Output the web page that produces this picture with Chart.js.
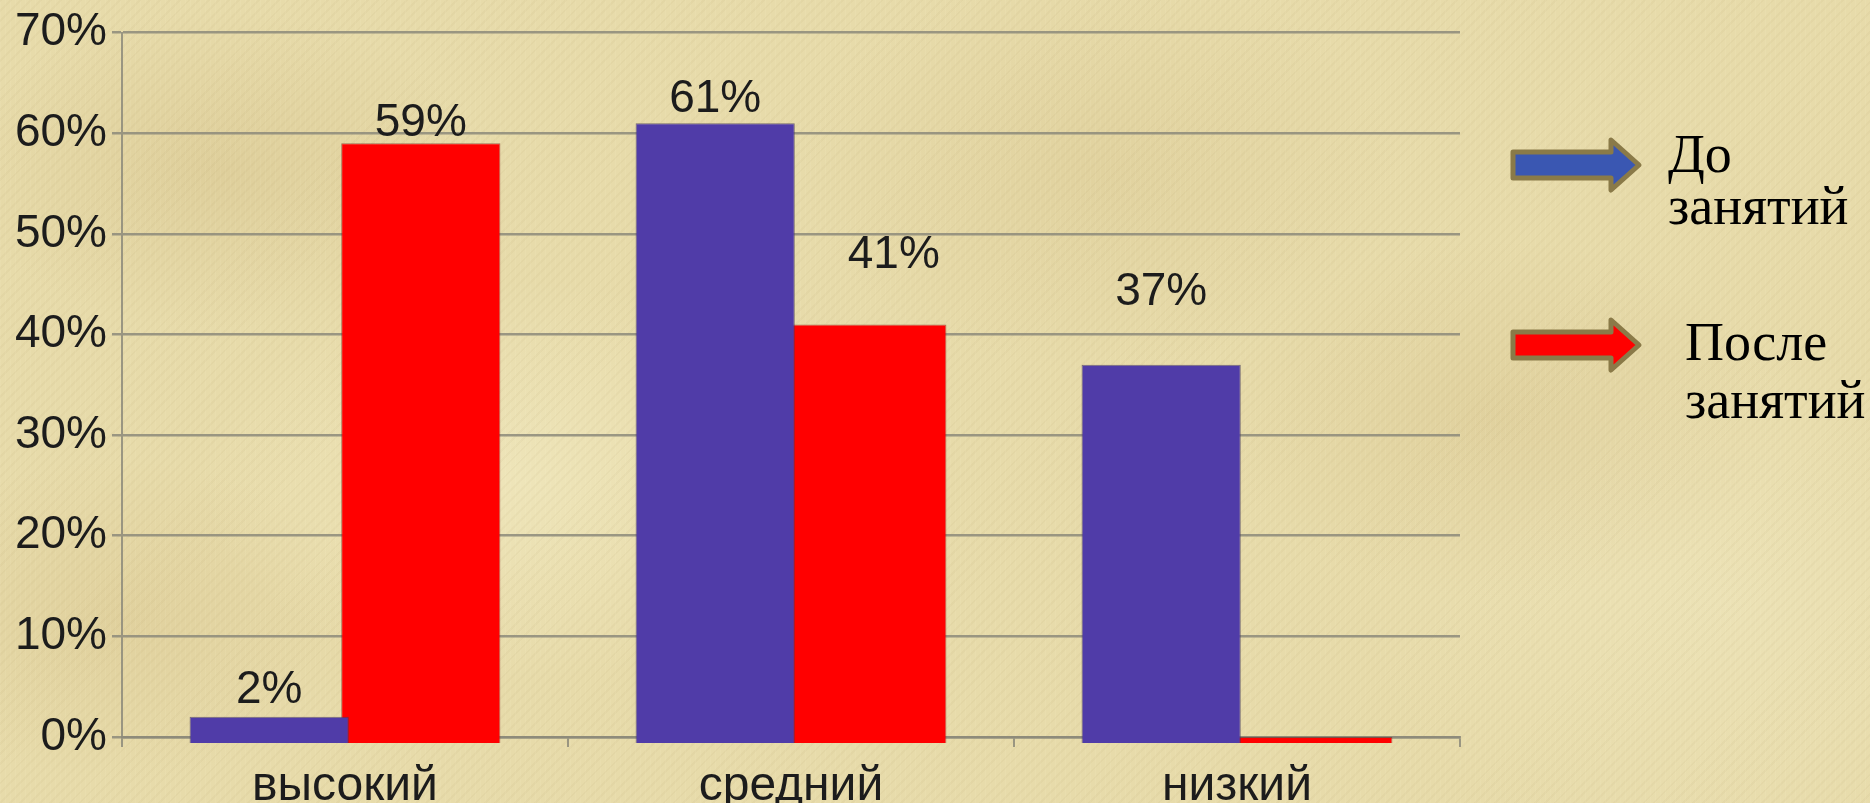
<!DOCTYPE html>
<html lang="ru">
<head>
<meta charset="utf-8">
<title>До и после занятий</title>
<script src="https://cdn.jsdelivr.net/npm/chart.js@4.4.1/dist/chart.umd.min.js"></script>
<style>
  html, body {
    margin: 0;
    padding: 0;
    width: 1870px;
    height: 803px;
    overflow: hidden;
  }
  body {
    position: relative;
    background-color: #e7dbaa;
    background-image:
      repeating-linear-gradient(135deg, rgba(150, 125, 70, 0.05) 0 2px, rgba(0, 0, 0, 0) 2px 7px),
      repeating-linear-gradient(90deg, rgba(255, 250, 220, 0.08) 0 1px, rgba(0, 0, 0, 0) 1px 5px),
      radial-gradient(ellipse 260px 160px at 220px 170px, rgba(196, 170, 110, 0.25), rgba(0, 0, 0, 0)),
      radial-gradient(ellipse 300px 200px at 1100px 170px, rgba(200, 175, 115, 0.2), rgba(0, 0, 0, 0)),
      radial-gradient(ellipse 280px 180px at 1500px 420px, rgba(196, 168, 108, 0.2), rgba(0, 0, 0, 0)),
      radial-gradient(ellipse 320px 200px at 520px 480px, rgba(245, 238, 200, 0.5), rgba(0, 0, 0, 0)),
      radial-gradient(ellipse 360px 260px at 1720px 600px, rgba(240, 232, 192, 0.55), rgba(0, 0, 0, 0)),
      radial-gradient(ellipse 250px 160px at 120px 620px, rgba(200, 172, 112, 0.22), rgba(0, 0, 0, 0));
  }
  #chart {
    position: absolute;
    left: 0;
    top: 0;
  }
  .arrow {
    position: absolute;
    left: 1508px;
    width: 136px;
    height: 58px;
  }
  .note {
    position: absolute;
    font-family: "Liberation Serif", "Times New Roman", serif;
    font-size: 54px;
    color: #000;
    white-space: nowrap;
  }
</style>
</head>
<body>
<canvas id="chart" width="1870" height="803"></canvas>

<svg class="arrow" style="top:136px" viewBox="0 0 136 58">
  <polygon points="5,16 103,16 103,4 131,29 103,54 103,42 5,42"
           fill="#3a57b2" stroke="#8a7a48" stroke-width="5" stroke-linejoin="round"/>
</svg>
<div class="note" style="left:1668px; top:128px; line-height:52px">До<br>занятий</div>

<svg class="arrow" style="top:316px" viewBox="0 0 136 58">
  <polygon points="5,16 103,16 103,4 131,29 103,54 103,42 5,42"
           fill="#ff0000" stroke="#8a7a48" stroke-width="5" stroke-linejoin="round"/>
</svg>
<div class="note" style="left:1685px; top:313px; line-height:58px">После<br>занятий</div>

<script>
const categories = ["высокий", "средний", "низкий"];
const seriesNames = ["До занятий", "После занятий"];
const beforeValues = [2, 61, 37];
const afterValues = [59, 41, 0];
const yTicks = [0, 10, 20, 30, 40, 50, 60, 70];

// where each value label sits relative to its bar top (px)
const labelLift = [[14, 11, 60], [7, 56, 0]];
const labelShiftX = [[0, 0, 0], [0, 27, 0]];

const gridColor = "rgba(140, 138, 122, 0.85)";
const labelFont = { family: "'Liberation Sans', Arial, sans-serif", size: 46 };

const valueLabels = {
  id: "valueLabels",
  afterDatasetsDraw(chart) {
    const ctx = chart.ctx;
    ctx.save();
    ctx.font = `${labelFont.size}px ${labelFont.family}`;
    ctx.fillStyle = "#1c1c1c";
    ctx.textAlign = "center";
    ctx.textBaseline = "alphabetic";
    chart.data.datasets.forEach((ds, di) => {
      chart.getDatasetMeta(di).data.forEach((bar, i) => {
        const v = ds.data[i];
        if (!v) return;
        const y = chart.scales.y.getPixelForValue(v);
        ctx.fillText(v + "%", bar.x + labelShiftX[di][i], y - labelLift[di][i]);
      });
    });
    ctx.restore();
  }
};

new Chart(document.getElementById("chart").getContext("2d"), {
  type: "bar",
  data: {
    labels: categories,
    datasets: [
      {
        label: seriesNames[0],
        data: beforeValues,
        backgroundColor: "#503ca8",
        borderColor: "rgba(70, 60, 90, 0.7)",
        borderWidth: 1,
        base: -0.6,
        clip: false
      },
      {
        label: seriesNames[1],
        data: afterValues,
        backgroundColor: "#ff0000",
        borderColor: "rgba(120, 40, 30, 0.6)",
        borderWidth: 1,
        base: -0.6,
        clip: false
      }
    ]
  },
  options: {
    responsive: false,
    animation: false,
    categoryPercentage: 0.68,
    barPercentage: 1.05,
    layout: { padding: { top: 32, right: 410, left: 0, bottom: 0 } },
    plugins: {
      legend: { display: false },
      tooltip: { enabled: false }
    },
    scales: {
      x: {
        afterFit: s => { s.height = 66; },
        grid: {
          offset: true,
          drawOnChartArea: false,
          tickLength: 10,
          color: gridColor,
          lineWidth: 2
        },
        border: { color: gridColor, width: 2.5 },
        ticks: {
          padding: 11,
          color: "#1c1c1c",
          font: { family: labelFont.family, size: 48 }
        }
      },
      y: {
        min: 0,
        max: 70,
        afterFit: s => { s.width = 122; },
        afterBuildTicks: s => { s.ticks = yTicks.map(v => ({ value: v })); },
        grid: {
          tickLength: 10,
          color: gridColor,
          lineWidth: 2.5
        },
        border: { color: gridColor, width: 2 },
        ticks: {
          padding: 5,
          color: "#1c1c1c",
          font: labelFont,
          callback: v => v + "%"
        }
      }
    }
  },
  plugins: [valueLabels]
});
</script>
</body>
</html>
